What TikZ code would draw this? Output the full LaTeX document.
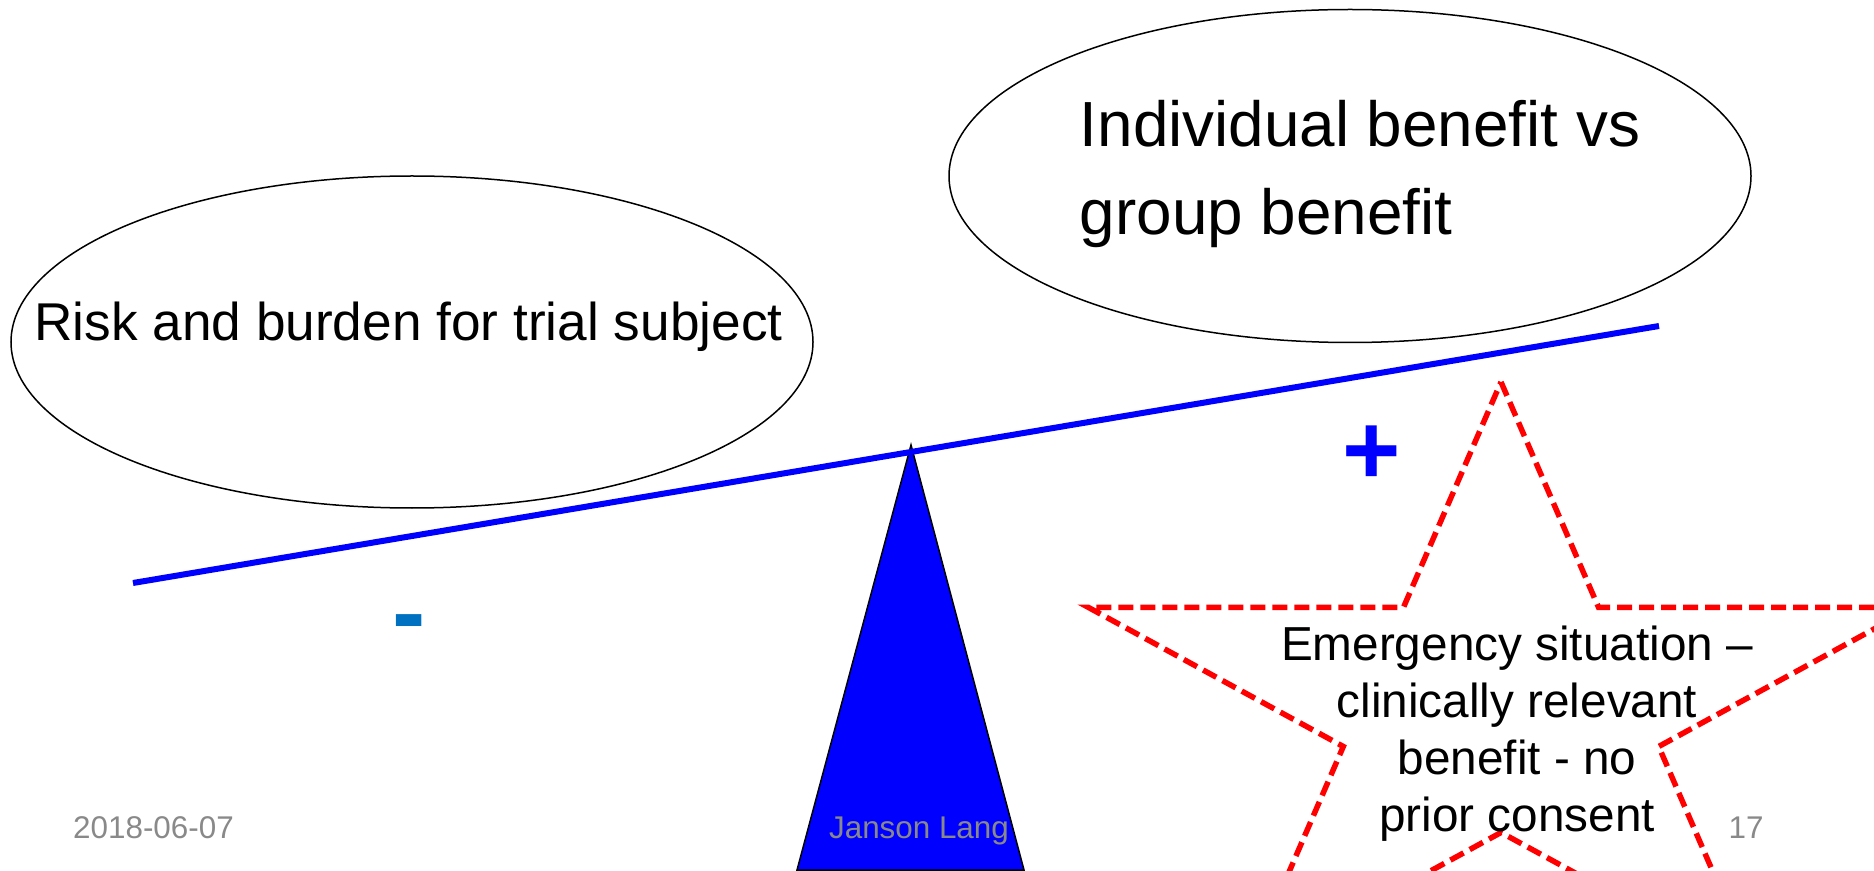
\documentclass[tikz,border=0pt]{standalone}
\usepackage{fontspec}
\setmainfont{Liberation Sans}
\usetikzlibrary{shapes.geometric}
\definecolor{beamblue}{RGB}{0,0,255}
\definecolor{minusblue}{RGB}{0,112,192}
\definecolor{footgray}{RGB}{137,137,137}
\definecolor{starred}{RGB}{255,0,0}
\begin{document}
\begin{tikzpicture}[x=0.5pt,y=-0.5pt,
  bubble/.style={ellipse, draw=black, line width=0.75pt, fill=white, inner sep=0pt},
  beam/.style={draw=beamblue, line width=3pt},
  pivot/.style={draw=black, line width=0.75pt, fill=beamblue, line join=miter},
  starline/.style={draw=starred, line width=2.75pt, dash pattern=on 7.5pt off 3.5pt, line join=miter},
  foot/.style={text=footgray, font=\fontsize{15.7}{19}\selectfont, inner sep=0pt, anchor=base},
  sign/.style={font=\bfseries\fontsize{50}{60}\selectfont, inner sep=0pt, anchor=base},
  label/.style={inner sep=0pt, text=black}
]
\useasboundingbox (0,0) rectangle (1874,871);
\clip (0,0) rectangle (1874,871);
% ellipses
\node[bubble, minimum width=401pt, minimum height=166pt] (risk) at (412,342) {};
\node[bubble, minimum width=401pt, minimum height=166.5pt] (benefit) at (1350,176) {};
% pivot and beam
\coordinate (apex) at (911,445);
\coordinate (baseL) at (797,870);
\coordinate (baseR) at (1024,870);
\draw[pivot] (apex) -- (baseR) -- (baseL) -- cycle;
\coordinate (bl) at (133,583);
\coordinate (br) at (1659,326);
\draw[beam] (bl) -- (br);
% star
\draw[starline] (1501,382) -- (1598.5,607.3) -- (1913.8,607.3) -- (1658.7,746.5)
  -- (1756.1,971.7) -- (1501,832.5) -- (1245.9,971.7) -- (1343.3,746.5)
  -- (1088.2,607.3) -- (1403.5,607.3) -- cycle;
% texts
\node[label, font=\fontsize{26.6}{32}\selectfont, anchor=base west] (risktext) at (34,341) {Risk and burden for trial subject};
\node[label, font=\fontsize{31.9}{44}\selectfont, align=left] (benefittext) at (1360,174) {Individual benefit vs\\group benefit};
\node[label, font=\fontsize{23.85}{28.5}\selectfont, align=center] (emerg) at (1517,733.5) {Emergency situation –\\clinically relevant\\benefit - no\\prior consent};
\node[sign, text=minusblue] (minus) at (409.5,646) {-};
\node[sign, text=beamblue] (plus) at (1372,485) {+};
% footer
\node[foot] (date) at (153.5,838) {2018-06-07};
\node[foot] (author) at (919,838) {Janson Lang};
\node[foot] (page) at (1746,838) {17};
\end{tikzpicture}
\end{document}
